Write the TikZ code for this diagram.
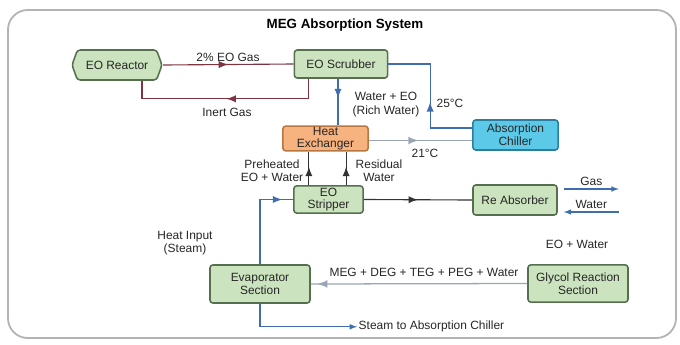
\documentclass[tikz,border=0pt]{standalone}
\usepackage{fontspec}
\setmainfont{Liberation Sans}
\usetikzlibrary{shapes.symbols,decorations.markings}
\definecolor{boxgreen}{HTML}{CBE3BE}
\definecolor{boxedge}{HTML}{56704F}
\definecolor{gasred}{HTML}{7D3440}
\definecolor{flowblue}{HTML}{3F6DB0}
\definecolor{paleline}{HTML}{9AA6B8}
\definecolor{chillblue}{HTML}{5CC9E8}
\definecolor{chilledge}{HTML}{2C7E9E}
\definecolor{hxorange}{HTML}{F6B27F}
\definecolor{hxedge}{HTML}{B87640}
\definecolor{framegray}{HTML}{B4B4B4}

\begin{document}
\begin{tikzpicture}[x=0.025cm,y=-0.025cm,font=\fontsize{8.5}{9}\selectfont,text=black!85,
  unit/.style={draw=boxedge,fill=boxgreen,line width=1.1pt,rounded corners=2pt,align=center,inner sep=0.5pt},
  gasline/.style={draw=gasred,line width=0.8pt},
  waterline/.style={draw=flowblue,line width=0.8pt},
  paleflow/.style={draw=paleline,line width=0.9pt},
  darkline/.style={draw=black!80,line width=0.8pt},
  flowarrow/.style={postaction={decorate},decoration={markings,mark=at position #1 with {\arrow[scale=1.3]{latex}}}},
  lbl/.style={align=center,inner sep=1pt}]
  \useasboundingbox (0,0) rectangle (680,344);
  \draw[framegray,line width=1.3pt,rounded corners=14pt] (8,10) rectangle (676,338); %frame
  \node[font=\bfseries\fontsize{9.5}{10}\selectfont,text=black] (title) at (345,25) {MEG Absorption System};

  % units
  \node[unit,signal,signal to=east and west,signal pointer angle=140,minimum width=2.25cm,minimum height=0.75cm] (reactor) at (117,65) {EO Reactor};
  \node[unit,minimum width=2.33cm,minimum height=0.7cm] (scrubber) at (341,64) {EO Scrubber};
  \node[unit,draw=hxedge,fill=hxorange,minimum width=2.13cm,minimum height=0.58cm] (hx) at (325.5,138.5) {Heat\\Exchanger};
  \node[unit,draw=chilledge,fill=chillblue,minimum width=2.13cm,minimum height=0.75cm] (chiller) at (515.5,135) {Absorption\\Chiller};
  \node[unit,minimum width=1.73cm,minimum height=0.68cm] (stripper) at (328.5,199.5) {EO\\Stripper};
  \node[unit,minimum width=2.1cm,minimum height=0.75cm] (reabs) at (515,200) {Re Absorber};
  \node[unit,minimum width=2.5cm,minimum height=0.93cm] (glycol) at (578,283.5) {Glycol Reaction\\Section};
  \node[unit,minimum width=2.5cm,minimum height=0.95cm] (evap) at (260,284) {Evaporator\\Section};

  % gas loop
  \draw[gasline,flowarrow=0.5] (reactor.east) -- (scrubber.west);
  \draw[gasline,flowarrow=0.5] ([xshift=0.375cm]scrubber.south west) -- ++(0,20) -| ([xshift=0.625cm]reactor.south); %inert gas
  \node[lbl] (eogas) at (228,57) {2\% EO Gas};
  \node[lbl] (inert) at (227,112) {Inert Gas};

  % water side
  \coordinate (rich) at ([xshift=-0.075cm]scrubber.south);
  \draw[waterline,flowarrow=0.42] (rich) -- (rich |- hx.north);
  \node[lbl,font=\fontsize{8.5}{10.5}\selectfont] (richlbl) at (386,104.5) {Water + EO\\(Rich Water)};
  \draw[waterline,flowarrow=0.46] ([yshift=0.175cm]chiller.west) -- ++(-42,0) |- (scrubber.east); %cold water back
  \node[lbl] (t25) at (450,103) {25°C};
  \draw[paleflow,flowarrow=0.48] ([yshift=-0.05cm]hx.east) -- ([yshift=-0.05cm]hx.east -| chiller.west);
  \node[lbl] (t21) at (425,153) {21°C};

  % stripper
  \coordinate (pre) at ([xshift=-0.49cm]stripper.north);
  \coordinate (res) at ([xshift=0.44cm]stripper.north);
  \draw[darkline,flowarrow=0.55] (pre) -- (pre |- hx.south);
  \draw[darkline,flowarrow=0.55] (res) -- (res |- hx.south);
  \node[lbl] (prelbl) at (272,171) {Preheated\\EO + Water};
  \node[lbl] (reslbl) at (379,171) {Residual\\Water};
  \draw[darkline,flowarrow=0.5] (stripper.east) -- (reabs.west);

  % re absorber
  \coordinate (gasin) at ([xshift=0.15cm,yshift=0.275cm]reabs.east);
  \coordinate (watin) at ([xshift=0.15cm,yshift=-0.3cm]reabs.east);
  \draw[waterline,-latex] (gasin) -- ++(55,0) node[lbl,midway,above=1pt] (gaslbl) {Gas};
  \draw[waterline,latex-] (watin) -- ++(55,0) node[lbl,midway,above=1pt] (watlbl) {Water};
  \node[lbl] (eowater) at (577,244) {EO + Water};

  % glycol and evaporator
  \draw[paleflow,flowarrow=0.97] (glycol.west) -- (evap.east);
  \node[lbl] (meg) at (424,272) {MEG + DEG + TEG + PEG + Water};
  \draw[waterline,flowarrow=0.89] (evap.north) |- (stripper.west); %steam in
  \node[lbl] (heatin) at (185,243) {Heat Input\\(Steam)};
  \coordinate (steamend) at ([xshift=2.425cm,yshift=-0.575cm]evap.south);
  \draw[waterline,-latex] (evap.south) |- (steamend);
  \node[lbl,anchor=west] (steamlbl) at (steamend) {Steam to Absorption Chiller};
\end{tikzpicture}
\end{document}
